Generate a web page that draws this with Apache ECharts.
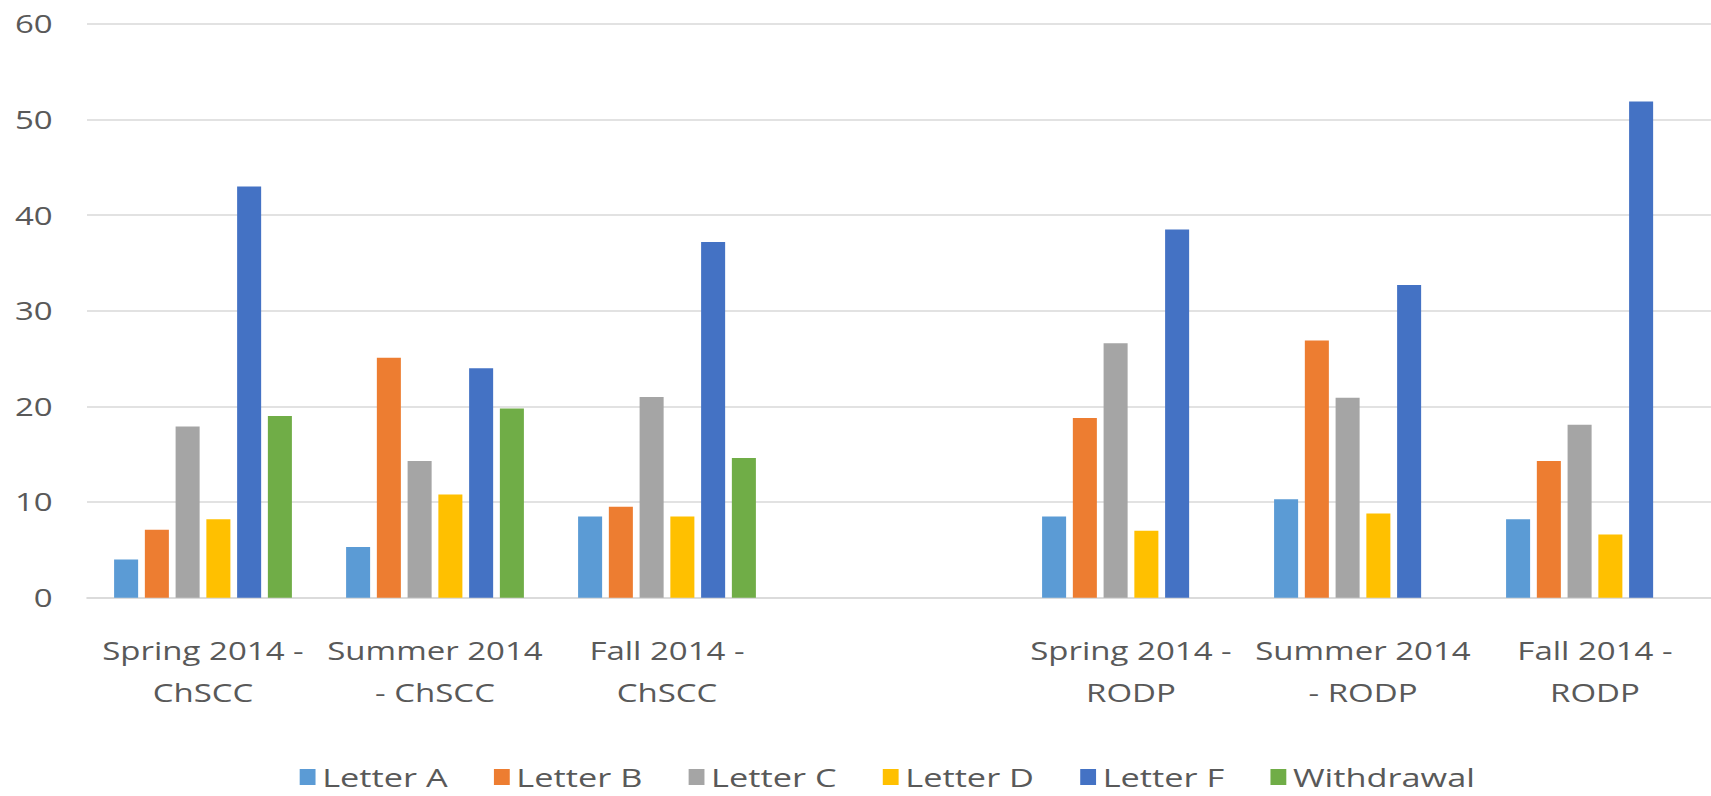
<!DOCTYPE html>
<html>
<head>
<meta charset="utf-8">
<script src="https://cdn.jsdelivr.net/npm/echarts@6/dist/echarts.min.js"></script>
<style>
  html, body { margin: 0; padding: 0; background: #fff; overflow: hidden; }
  /* the original chart is stretched sideways, so draw narrow and widen it */
  #main { width: 1296px; height: 796px; transform: scaleX(1.3202); transform-origin: 0 0; }
</style>
</head>
<body>
<div id="main"></div>
<script>
// categories (empty one is the gap between the two groups)
var categories = ['Spring 2014 -\nChSCC', 'Summer 2014\n- ChSCC', 'Fall 2014 -\nChSCC', '',
  'Spring 2014 -\nRODP', 'Summer 2014\n- RODP', 'Fall 2014 -\nRODP'];

var letterA = [4.0, 5.3, 8.5, null, 8.5, 10.3, 8.2];
var letterB = [7.1, 25.1, 9.5, null, 18.8, 26.9, 14.3];
var letterC = [17.9, 14.3, 21.0, null, 26.6, 20.9, 18.1];
var letterD = [8.2, 10.8, 8.5, null, 7.0, 8.8, 6.6];
var letterF = [43.0, 24.0, 37.2, null, 38.5, 32.7, 51.9];
var withdrawal = [19.0, 19.8, 14.6, null, null, null, null];

var yTicks = [0, 10, 20, 30, 40, 50, 60];

var names = ['Letter A', 'Letter B', 'Letter C', 'Letter D', 'Letter F', 'Withdrawal'];
var values = [letterA, letterB, letterC, letterD, letterF, withdrawal];
var colors = ['#5B9BD5', '#ED7D31', '#A5A5A5', '#FFC000', '#4472C4', '#70AD47'];

var myChart = echarts.init(document.getElementById('main'), null, { renderer: 'svg' });

var series = names.map(function (n, i) {
  return {
    name: n,
    type: 'bar',
    data: values[i],
    barWidth: 18.2,
    barGap: '28%'
  };
});

var option = {
  animation: false,
  color: colors,
  textStyle: { fontFamily: 'Open Sans' },
  grid: {
    left: 65.9,
    top: 24,
    width: 1238.6,
    height: 573.7
  },
  legend: {
    data: names,
    left: 227,
    top: 758,
    icon: 'rect',
    itemWidth: 12,
    itemHeight: 16,
    itemGap: 31,
    padding: 0,
    textStyle: { fontSize: 26, lineHeight: 38, color: '#595959', padding: [0, 4, 0, 0] }
  },
  xAxis: {
    type: 'category',
    data: categories,
    axisTick: { show: false },
    axisLine: { lineStyle: { color: '#d9d9d9', width: 1.5 } },
    axisLabel: {
      interval: 0,
      fontSize: 25,
      lineHeight: 42,
      margin: 32,
      color: '#595959'
    }
  },
  yAxis: {
    type: 'value',
    min: yTicks[0],
    max: yTicks[yTicks.length - 1],
    interval: 10,
    axisLine: { show: false },
    axisTick: { show: false },
    axisLabel: { fontSize: 25, margin: 26, color: '#595959' },
    splitLine: { lineStyle: { color: '#d9d9d9', width: 1.5 } }
  },
  series: series
};

myChart.setOption(option);
</script>
</body>
</html>
